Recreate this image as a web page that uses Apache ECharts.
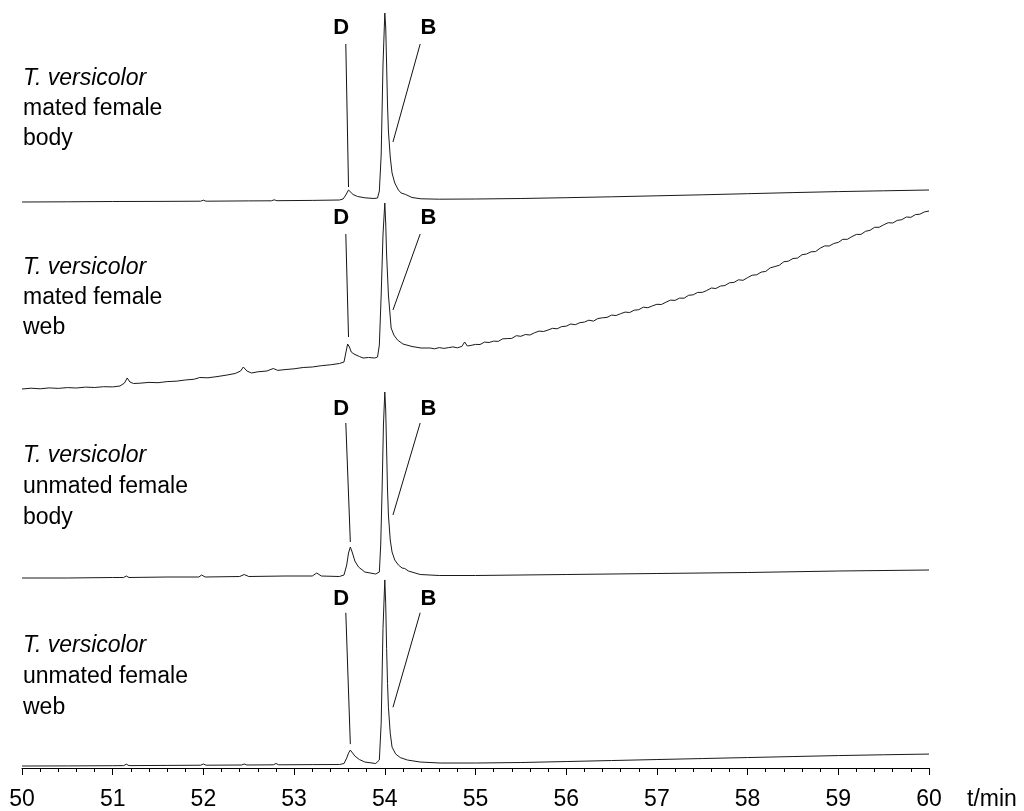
<!DOCTYPE html>
<html>
<head>
<meta charset="utf-8">
<script src="https://cdn.jsdelivr.net/npm/echarts@6/dist/echarts.min.js"></script>
<style>html,body{margin:0;padding:0;background:#fff}#c{width:1024px;height:811px}</style>
</head>
<body>
<div id="c"></div>
<script>
// x ticks (t/min)
const tickMin = 50, tickMax = 60, tickStep = 1;
const axisName = 't/min';
const panelTitles = [
  ['T. versicolor', 'mated female', 'body'],
  ['T. versicolor', 'mated female', 'web'],
  ['T. versicolor', 'unmated female', 'body'],
  ['T. versicolor', 'unmated female', 'web']
];
const peakLabels = ['D', 'B'];

// chromatogram traces [t/min, intensity]
const matedBody = [[50.00,3],[50.50,3.2],[51.00,3.5],[51.50,3.6],[51.97,3.8],[52.00,4.8],[52.03,3.8],[52.50,4.1],[52.75,4.2],[52.78,5.2],[52.81,4.3],[53.20,4.6],[53.50,5],[53.54,6],[53.57,10],[53.60,15],[53.62,13.5],[53.65,10.5],[53.70,8.5],[53.78,7.2],[53.88,6.5],[53.92,7],[53.94,14],[53.96,50],[53.98,140],[54.00,192],[54.01,178],[54.02,140],[54.03,100],[54.04,74],[54.06,48],[54.08,32],[54.11,22],[54.15,15],[54.18,12],[54.20,12.8],[54.23,10.5],[54.30,7.5],[54.40,6.2],[54.60,5.8],[55.00,6],[55.50,6.5],[56.00,7.3],[56.50,8.2],[57.00,9.2],[57.50,10.2],[58.00,11.3],[58.50,12.4],[59.00,13.4],[59.50,14.2],[60.00,15]];

const matedWeb = [[50.00,6],[50.10,6.8],[50.20,6.2],[50.30,7.1],[50.40,6.6],[50.50,7.4],[50.60,7.0],[50.70,7.9],[50.80,7.5],[50.90,8.3],[51.00,8.1],[51.08,9.0],[51.13,12],[51.16,17],[51.19,13],[51.23,11.5],[51.30,11.8],[51.40,12.6],[51.50,12.3],[51.60,13.4],[51.70,13.8],[51.80,15.0],[51.90,15.8],[51.96,17.5],[52.05,17.2],[52.15,18.4],[52.25,19.8],[52.35,21.5],[52.41,24],[52.44,28],[52.48,24],[52.53,22],[52.60,23.2],[52.70,24.0],[52.77,26.5],[52.82,24.6],[52.90,25.4],[53.00,26.2],[53.10,27.5],[53.20,28.0],[53.30,29.3],[53.40,30.2],[53.50,31.5],[53.55,33],[53.57,42],[53.59,51],[53.61,48],[53.63,43],[53.66,41],[53.68,39],[53.72,38.5],[53.76,37],[53.82,37.5],[53.89,37],[53.92,38],[53.94,50],[53.96,100],[53.98,160],[54.00,192],[54.01,172],[54.02,140],[54.04,100],[54.07,67],[54.10,60],[54.14,55],[54.20,51],[54.30,48.5],[54.40,47],[54.50,47],
[54.55,46.2],[54.60,47.4],[54.65,46.6],[54.70,47.3],[54.75,48.1],[54.80,47.2],[54.85,48.6],[54.88,53],[54.91,49],[54.95,49.6],
[55.00,50.6],[55.05,50.5],[55.10,52.9],[55.15,52.5],[55.20,53.9],[55.25,53.6],[55.30,56.2],[55.35,56.4],[55.40,56.6],[55.45,59.3],
[55.50,58.7],[55.55,60.5],[55.60,60.0],[55.65,62.2],[55.70,63.9],[55.75,63.5],[55.80,65.0],[55.85,66.7],[55.90,66.2],[55.95,68.4],
[56.00,68.8],[56.05,71.0],[56.10,70.3],[56.15,72.3],[56.20,72.9],[56.25,74.8],[56.30,73.9],[56.35,76.5],[56.40,77.2],[56.45,77.6],
[56.50,79.9],[56.55,79.5],[56.60,81.3],[56.65,82.9],[56.70,82.5],[56.75,84.8],[56.80,85.3],[56.85,87.8],[56.90,87.3],[56.95,89.1],
[57.00,90.7],[57.05,90.5],[57.10,92.8],[57.15,94.9],[57.20,94.6],[57.25,96.9],[57.30,96.8],[57.35,99.7],[57.40,100.2],[57.45,102.6],
[57.50,102.6],[57.55,104.5],[57.60,107.0],[57.65,106.5],[57.70,108.9],[57.75,109.5],[57.80,112.2],[57.85,112.6],[57.90,115.2],[57.95,114.7],
[58.00,117.4],[58.05,119.8],[58.10,120.2],[58.15,122.9],[58.20,123.6],[58.25,127.2],[58.30,128.4],[58.35,129.8],[58.40,133.3],[58.45,133.8],
[58.50,136.5],[58.55,136.9],[58.60,140.3],[58.65,141.0],[58.70,143.2],[58.75,143.5],[58.80,146.8],[58.85,149.1],[58.90,149.0],[58.95,151.5],
[59.00,152.6],[59.05,155.7],[59.10,155.7],[59.15,158.4],[59.20,160.6],[59.25,160.6],[59.30,163.7],[59.35,164.7],[59.40,167.7],[59.45,167.7],
[59.50,170.2],[59.55,172.3],[59.60,172.0],[59.65,174.6],[59.70,175.3],[59.75,178.0],[59.80,177.7],[59.85,180.4],[59.90,180.8],[59.95,183.1],[60.00,184]];

const unmatedBody = [[50.00,7],[50.50,7],[51.00,7.5],[51.12,7.5],[51.15,9],[51.18,7.5],[51.60,8],[51.95,8],[51.98,10],[52.02,8],[52.40,8.5],[52.45,10.5],[52.50,8.5],[52.90,9],[53.20,9],[53.25,12],[53.30,9],[53.50,8.5],[53.55,10],[53.58,20],[53.60,32],[53.62,38],[53.64,33],[53.67,24],[53.71,18],[53.78,13],[53.90,11],[53.94,13],[53.955,40],[53.97,95],[53.985,160],[54.00,193],[54.01,175],[54.02,135],[54.03,95],[54.04,70],[54.06,45],[54.08,33],[54.11,25],[54.15,20],[54.19,17],[54.22,16.5],[54.26,14],[54.39,10.5],[54.60,9.5],[55.00,9.5],[56.00,10.5],[57.00,11.5],[58.00,12.5],[59.00,14],[60.00,15]];

const unmatedWeb = [[50.00,2],[50.50,2.1],[51.00,2.3],[51.12,2.4],[51.15,3.8],[51.18,2.4],[51.60,2.6],[51.97,2.8],[52.00,4.0],[52.03,2.8],[52.42,3.0],[52.45,4.0],[52.48,3.0],[52.77,3.2],[52.80,4.5],[52.83,3.2],[53.20,3.4],[53.50,3.5],[53.55,4.5],[53.58,10],[53.60,15],[53.62,18],[53.64,16],[53.67,12],[53.72,8.5],[53.78,6],[53.90,4.5],[53.94,8],[53.96,45],[53.98,140],[54.00,189],[54.01,165],[54.02,120],[54.03,85],[54.04,61],[54.06,35],[54.08,21],[54.12,14],[54.17,10.5],[54.25,8],[54.39,6],[54.61,5],[55.00,5],[55.50,5.5],[56.00,6.5],[56.50,7.5],[57.00,8.5],[57.50,9.5],[58.00,10.5],[58.50,11.5],[59.00,12.5],[59.50,13.3],[60.00,14]];

const traces = [matedBody, matedWeb, unmatedBody, unmatedWeb];
// leader lines: [label end, peak end] for D and B, per panel
const dLeaders = [[[53.57,161],[53.60,18]], [[53.57,161],[53.60,58]], [[53.57,162],[53.62,43]], [[53.57,156],[53.62,24]]];
const bLeaders = [[[54.39,161],[54.09,63]], [[54.39,161],[54.09,85]], [[54.39,162],[54.09,70]], [[54.39,156],[54.09,61]]];
const labelPos = [[53.52,54.48,177],[53.52,54.48,177],[53.52,54.48,176],[53.52,54.48,170]];

const gridTops = [5, 195, 385, 569];
const FONT = "'Liberation Sans', Arial, sans-serif";

const chart = echarts.init(document.getElementById('c'), null, {renderer: 'canvas'});
const grids = gridTops.map(t => ({left: 22, right: 95, top: t, height: 200}));
const xAxes = gridTops.map((t, i) => ({
  type: 'value', gridIndex: i, min: tickMin, max: tickMax, interval: tickStep,
  show: i === 3,
  axisLine: {show: true, lineStyle: {color: '#000', width: 1}},
  axisTick: {show: true, length: 7, lineStyle: {color: '#000', width: 1}},
  minorTick: {show: true, splitNumber: 5, length: 4, lineStyle: {color: '#000', width: 1}},
  splitLine: {show: false},
  axisLabel: {show: true, color: '#000', fontSize: 23, fontFamily: FONT, margin: 20}
}));
const yAxes = gridTops.map((t, i) => ({type: 'value', gridIndex: i, min: 0, max: 200, show: false}));

const series = traces.map((d, i) => ({
  type: 'line', xAxisIndex: i, yAxisIndex: i, data: d, showSymbol: false, symbol: 'none',
  lineStyle: {color: '#1a1a1a', width: 1}, silent: true, clip: false,
  markLine: {
    silent: true, symbol: 'none', animation: false,
    label: {show: false},
    lineStyle: {color: '#111', width: 1, type: 'solid'},
    data: [
      [{coord: dLeaders[i][0]}, {coord: dLeaders[i][1]}],
      [{coord: bLeaders[i][0]}, {coord: bLeaders[i][1]}]
    ]
  },
  markPoint: {
    silent: true, animation: false, symbol: 'circle', symbolSize: 1,
    itemStyle: {color: 'rgba(0,0,0,0)'},
    label: {show: true, position: 'inside', formatter: p => p.name, color: '#000', fontSize: 22, fontWeight: 'bold', fontFamily: FONT},
    data: [
      {name: peakLabels[0], coord: [labelPos[i][0], labelPos[i][2]]},
      {name: peakLabels[1], coord: [labelPos[i][1], labelPos[i][2]]}
    ]
  }
}));

const titleBaselines = [[78.5,108.5,138.5],[267.5,297.5,327.5],[456,487,518],[646,677,708]];
const graphic = [];
panelTitles.forEach((lines, i) => {
  lines.forEach((s, j) => {
    graphic.push({type: 'text', x: 23, y: titleBaselines[i][j], silent: true,
      style: {text: s, fill: '#000', font: (j === 0 ? 'italic ' : '') + '23px ' + FONT, textAlign: 'left', textVerticalAlign: 'middle'}});
  });
});
graphic.push({type: 'text', x: 967, y: 800, silent: true,
  style: {text: axisName, fill: '#000', font: '23px ' + FONT, textAlign: 'left', textVerticalAlign: 'middle'}});

chart.setOption({
  animation: false,
  backgroundColor: '#fff',
  grid: grids, xAxis: xAxes, yAxis: yAxes, series: series, graphic: graphic
});
</script>
</body>
</html>
